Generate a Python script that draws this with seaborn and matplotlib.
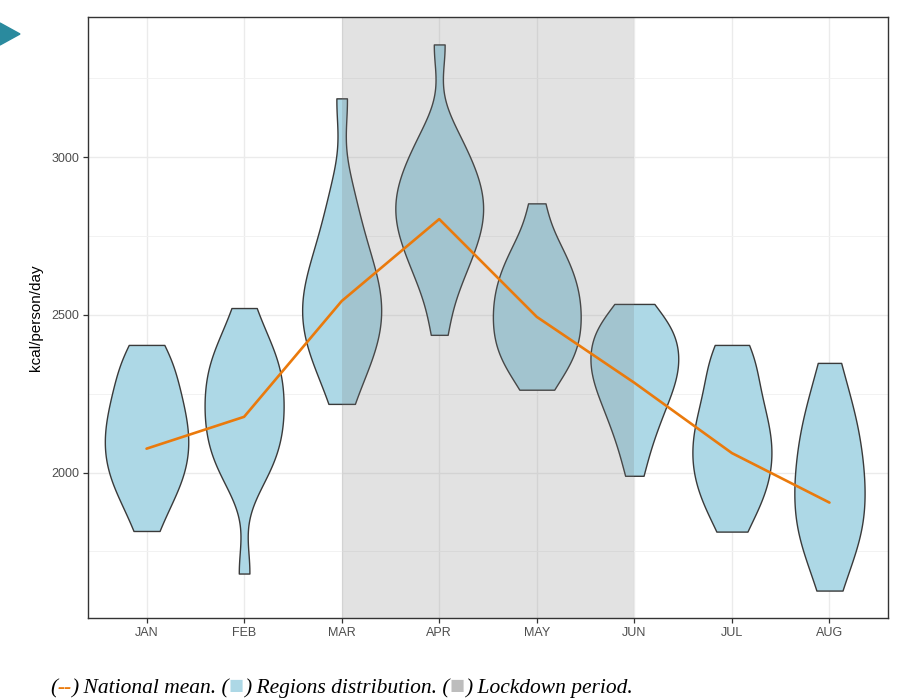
import numpy as np
import pandas as pd
import matplotlib
matplotlib.use("Agg")
import matplotlib.pyplot as plt
from matplotlib.patches import Polygon
from matplotlib.ticker import MultipleLocator
import seaborn as sns

months = ["JAN", "FEB", "MAR", "APR", "MAY", "JUN", "JUL", "AUG"]

national_mean = [2076, 2177, 2544, 2804, 2494, 2285, 2062, 1905]

jan = [1815, 1889, 1928, 1961, 1990, 2018, 2043, 2068, 2093, 2118,
       2143, 2170, 2197, 2224, 2257, 2293, 2328, 2370, 2405]
feb = [1680, 1961, 2005, 2042, 2073, 2105, 2133, 2162, 2190, 2219,
       2247, 2276, 2306, 2335, 2365, 2396, 2440, 2522]
mar = [2218, 2304, 2346, 2384, 2417, 2449, 2479, 2507, 2536, 2565,
       2595, 2628, 2663, 2708, 2757, 2824, 2913, 3187]
apr = [2437, 2550, 2610, 2651, 2690, 2718, 2746, 2774, 2797, 2820,
       2843, 2867, 2891, 2915, 2942, 2972, 3002, 3047, 3096, 3358]
may = [2263, 2312, 2342, 2367, 2392, 2414, 2437, 2459, 2482, 2504,
       2527, 2549, 2572, 2595, 2620, 2644, 2675, 2712, 2748, 2854]
jun = [1990, 2071, 2119, 2160, 2194, 2221, 2248, 2273, 2293, 2313,
       2333, 2352, 2371, 2392, 2412, 2433, 2453, 2473, 2497, 2535]
jul = [1813, 1875, 1911, 1943, 1975, 2003, 2030, 2057, 2084, 2112,
       2140, 2168, 2201, 2239, 2279, 2330, 2375, 2405]
aug = [1626, 1715, 1764, 1803, 1840, 1877, 1914, 1950, 1987, 2023,
       2064, 2107, 2151, 2194, 2256, 2348]

regions = [jan, feb, mar, apr, may, jun, jul, aug]
lockdown = ("MAR", "JUN")

caption_parts = [("(", "black"), ("--", "#ea7a0c"), (") National mean. (", "black"),
                 ("\u25A0", "#add8e6"), (") Regions distribution. (", "black"),
                 ("\u25A0", "#bdbdbd"), (") Lockdown period.", "black")]

rows = []
for m, vals in zip(months, regions):
    for v in vals:
        rows.append({"month": m, "kcal": v})
df = pd.DataFrame(rows)


def nrd0(kde):
    # R's default bandwidth rule (as used by ggplot2's geom_violin)
    x = np.asarray(kde.dataset[0])
    sd = x.std(ddof=1)
    q75, q25 = np.percentile(x, [75, 25])
    lo = min(sd, (q75 - q25) / 1.34)
    bw = 0.9 * lo * len(x) ** -0.2
    return bw / sd


sns.set_theme(style="white")
plt.rcParams["font.family"] = ["Liberation Sans", "DejaVu Sans"]

fig = plt.figure(figsize=(9.05, 6.99), dpi=100)
ax = fig.add_axes([88 / 905, (699 - 618) / 699, 800 / 905, 601 / 699])

sns.violinplot(data=df, x="month", y="kcal", order=months, color="#add8e6",
               saturation=1, cut=0, density_norm="count", width=0.9,
               inner=None, linecolor="#3a3a3a", linewidth=1.0,
               bw_method=nrd0, bw_adjust=0.95, ax=ax)

x0 = months.index(lockdown[0])
x1 = months.index(lockdown[1])
ax.axvspan(x0, x1, color="#7a7a7a", alpha=0.21, lw=0, zorder=2)

sns.pointplot(x=months, y=national_mean, order=months, color="#ea7a0c",
              markers="", linestyles="-", errorbar=None, ax=ax)
for ln in ax.lines:
    ln.set_linewidth(1.9)
    ln.set_zorder(4)

ax.set_xlim(-0.6, 7.6)
ax.set_ylim(1539, 3445)
ax.yaxis.set_major_locator(MultipleLocator(500))
ax.yaxis.set_minor_locator(MultipleLocator(250))
ax.set_axisbelow(True)
ax.grid(True, which="major", color="#ebebeb", lw=1.0)
ax.grid(True, which="minor", axis="y", color="#f2f2f2", lw=0.7)
ax.set_xlabel("")
ax.set_ylabel("kcal/person/day", fontsize=11, color="black", labelpad=6)
ax.tick_params(axis="both", which="major", length=3.5, width=0.9,
               color="#333333", labelsize=9, labelcolor="#4d4d4d",
               bottom=True, left=True, pad=3)
ax.tick_params(axis="y", which="minor", length=0)
for s in ax.spines.values():
    s.set_color("#333333")
    s.set_linewidth(1.0)

# caption, pieces chained one after the other on a common baseline
base_px = 6
prev = None
for s, c in caption_parts:
    kw = dict(family="Liberation Serif", style="italic", fontsize=15.5)
    if s == "--":
        kw["weight"] = "bold"
    if s == "\u25A0":
        kw["style"] = "normal"
        kw["fontsize"] = 18
    if prev is None:
        prev = ax.annotate(s, xy=(50, base_px), xycoords="figure pixels",
                           va="baseline", ha="left", color=c,
                           annotation_clip=False, **kw)
    else:
        prev = ax.annotate(s, xy=(1, base_px), xycoords=(prev, "figure pixels"),
                           va="baseline", ha="left", color=c,
                           annotation_clip=False, **kw)

# teal marker at top-left
fig.patches.append(Polygon([[0, 1 - 23 / 699], [20 / 905, 1 - 34 / 699],
                            [0, 1 - 45 / 699]], closed=True,
                           transform=fig.transFigure, color="#2a8a9e"))

fig.savefig("out.png", dpi=100)
